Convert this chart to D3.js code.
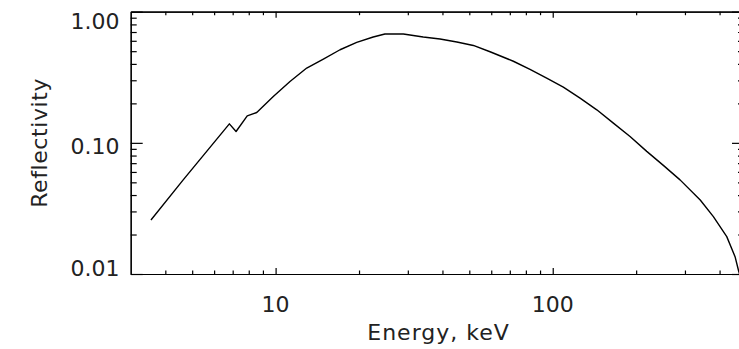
<!DOCTYPE html>
<html>
<head>
<meta charset="utf-8">
<script src="https://cdn.jsdelivr.net/npm/d3@7"></script>
<style>
  html, body { margin: 0; padding: 0; background: #fff; overflow: hidden; }
  svg { display: block; }
  text { font-family: "DejaVu Sans", sans-serif; fill: #222; }
</style>
</head>
<body>
<script>
// ---- data ----
const energy = [3.55, 4.64, 6.81, 7.20, 7.90, 8.55, 9.81, 11.27, 12.95, 14.87, 17.08, 19.62, 22.5, 24.8, 28.9, 34.1, 39.2, 45.1, 51.7, 59.4, 72.1, 82.8, 95.1, 109.2, 125.5, 144.2, 165.5, 190.1, 218.4, 250.7, 288, 340.6, 379.9, 424.6, 454.9, 467.7, 476];
const reflectivity = [0.0258, 0.0522, 0.1396, 0.122, 0.1607, 0.1703, 0.2257, 0.2938, 0.3717, 0.4355, 0.5128, 0.5828, 0.641, 0.6757, 0.6757, 0.641, 0.619, 0.587, 0.553, 0.495, 0.419, 0.364, 0.311, 0.2661, 0.2195, 0.1786, 0.1414, 0.1117, 0.0861, 0.0673, 0.0522, 0.0367, 0.02738, 0.01927, 0.01355, 0.01073, 0.0094];
const xDomain = [3, 490];
const yDomain = [0.01, 1.0];
const xMajorTicks = [10, 100];
const xMajorLabels = ["10", "100"];
const xMinorTicks = [4, 5, 6, 7, 8, 9, 20, 30, 40, 50, 60, 70, 80, 90, 200, 300, 400];
const yMajorTicks = [0.01, 0.1, 1.0];
const yMajorLabels = ["0.01", "0.10", "1.00"];
const yMinorTicks = [0.02, 0.03, 0.04, 0.05, 0.06, 0.07, 0.08, 0.09, 0.2, 0.3, 0.4, 0.5, 0.6, 0.7, 0.8, 0.9];
const xTitle = "Energy, keV";
const yTitle = "Reflectivity";

// ---- layout ----
const W = 739, H = 349;
const mLeft = 130.7, mRight = 744, mTop = 11.7, mBottom = 274;

const svg = d3.select("body").append("svg").attr("width", W).attr("height", H);

const x = d3.scaleLog().domain(xDomain).range([mLeft, mRight]);
const y = d3.scaleLog().domain(yDomain).range([mBottom, mTop]);

svg.append("defs").append("clipPath").attr("id", "plotclip")
  .append("rect").attr("x", mLeft).attr("y", mTop).attr("width", mRight - mLeft).attr("height", mBottom - mTop);

function styleAxis(g) {
  g.selectAll("path.domain").attr("stroke", "#000").attr("stroke-width", 1.2);
  g.selectAll(".tick line").attr("stroke", "#000").attr("stroke-width", 1.2);
  g.selectAll(".tick text").remove();
}
const xMajLen = 6, xMinLen = 3.5, yMajLen = 12, yMinLen = 6;

function addAxis(axisFn, scale, ticks, len, tx, ty) {
  return svg.append("g").attr("transform", `translate(${tx},${ty})`)
    .call(axisFn(scale).tickValues(ticks).tickSize(len).tickSizeOuter(0))
    .call(styleAxis);
}
// bottom (ticks up), top (ticks down)
addAxis(d3.axisTop, x, xMajorTicks, xMajLen, 0, mBottom);
addAxis(d3.axisTop, x, xMinorTicks, xMinLen, 0, mBottom);
addAxis(d3.axisBottom, x, xMajorTicks, xMajLen, 0, mTop);
addAxis(d3.axisBottom, x, xMinorTicks, xMinLen, 0, mTop);
// left (ticks right), right (ticks left)
addAxis(d3.axisRight, y, yMajorTicks, yMajLen, mLeft, 0);
addAxis(d3.axisRight, y, yMinorTicks, yMinLen, mLeft, 0);
addAxis(d3.axisLeft, y, yMajorTicks, yMajLen, mRight, 0);
addAxis(d3.axisLeft, y, yMinorTicks, yMinLen, mRight, 0);

// tick labels
svg.append("g").selectAll("text").data(xMajorTicks).join("text")
  .attr("x", d => x(d)).attr("y", 312)
  .attr("text-anchor", "middle").attr("font-size", 22)
  .text((d, i) => xMajorLabels[i]);

svg.append("g").selectAll("text").data(yMajorTicks).join("text")
  .attr("x", 119.5)
  .attr("y", d => Math.min(Math.max(y(d) + 3, mTop + 9), mBottom - 6))
  .attr("dy", "0.36em")
  .attr("text-anchor", "end").attr("font-size", 22)
  .text((d, i) => yMajorLabels[i]);

// titles
svg.append("text").attr("x", (mLeft + 746.4) / 2).attr("y", 340)
  .attr("text-anchor", "middle").attr("font-size", 22).attr("letter-spacing", 1)
  .text(xTitle);
svg.append("text").attr("transform", `translate(47,${(mTop + mBottom) / 2}) rotate(-90)`)
  .attr("text-anchor", "middle").attr("font-size", 22).attr("letter-spacing", 0.6)
  .text(yTitle);

// curve
const pts = energy.map((e, i) => [e, reflectivity[i]]);
svg.append("path").datum(pts)
  .attr("clip-path", "url(#plotclip)")
  .attr("fill", "none").attr("stroke", "#000").attr("stroke-width", 1.4)
  .attr("stroke-linejoin", "round")
  .attr("d", d3.line().x(d => x(d[0])).y(d => y(d[1])));
</script>
</body>
</html>
